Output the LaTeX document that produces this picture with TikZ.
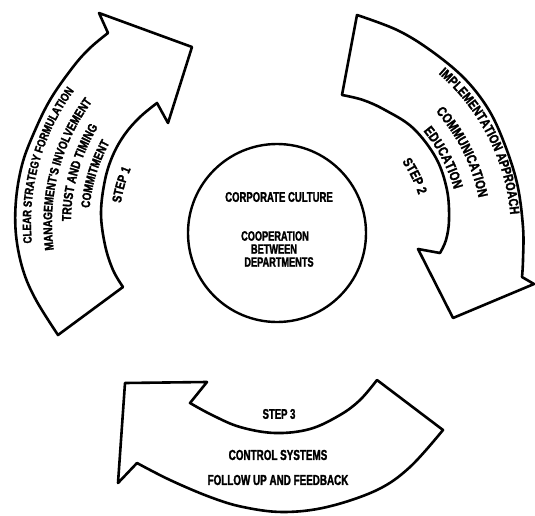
\documentclass[tikz,border=0pt]{standalone}
\usepackage{fontspec}
\usetikzlibrary{calc,decorations.text}
% heavy condensed lettering
\newfontfamily\heavy{Liberation Sans}[FakeStretch=0.68,FakeBold=1.6]
\newfontfamily\curved{Liberation Sans}[FakeStretch=0.8,FakeBold=1.6]
\newfontfamily\curvedspaced{Liberation Sans}[FakeStretch=0.8,FakeBold=1.6,LetterSpace=18]

\begin{document}
\begin{tikzpicture}[x=1pt, y=-1pt, line join=round]
\tikzset{
  outline/.style={draw=black, line width=2.6pt, fill=white, line join=round},
  flat/.style={inner sep=0pt, font=\heavy\bfseries\fontsize{14}{16}\selectfont},
  hubtext/.style={inner sep=0pt, font=\heavy\bfseries\fontsize{13.5}{15}\selectfont},
  arctext/.style={decorate, decoration={text along path, text align=center, text={#1}}},
}
\fill[white] (0,0) rectangle (535,516);
\useasboundingbox (0,0) rectangle (535,516);

\coordinate (c1) at (255,223);
\coordinate (c2) at (300,233);

% step 1 arrow, rising on the left
\draw[outline] (123,287) -- (58,335)
  -- plot[smooth, tension=0.6] coordinates {(58,335) (36,300) (23,270) (16,235) (16,200) (22,165) (33,135) (50,100) (73,67) (90,48) (108,33)}
  -- (99,13) -- (192,47) -- (168,123) -- (157,103)
  -- plot[smooth, tension=0.6] coordinates {(157,103) (140,117) (125,134) (113,155) (105,180) (101,213) (105,245) (113,270) (123,287)}
  -- cycle;

% step 2 arrow, descending on the right
\draw[outline] (357,15)
  -- plot[smooth, tension=0.6] coordinates {(357,15) (397,30) (430,50) (463,77) (487,107) (503,140) (517,183) (523,227) (523,260) (522,277)}
  -- (534,284) -- (453,318) -- (418,249) -- (440,253)
  -- plot[smooth, tension=0.6] coordinates {(440,253) (446,240) (449,220) (447,190) (436,158) (413,128) (385,110) (363,100) (342,95)}
  -- cycle;

% step 3 arrow, sweeping back along the bottom
\draw[outline] (377,380) -- (443,430)
  -- plot[smooth, tension=0.6] coordinates {(443,430) (410,467) (377,490) (327,507) (283,512) (243,507) (210,497) (170,480) (137,463)}
  -- (118,483) -- (125,383) -- (207,382) -- (190,403)
  -- plot[smooth, tension=0.6] coordinates {(190,403) (212,415) (240,427) (275,433) (310,429) (340,415) (360,400) (377,380)}
  -- cycle;

% central circle
\node[draw, circle, line width=2.4pt, minimum size=178pt, inner sep=0pt] (hub) at (277,233) {};
\node[flat] (culture) at (279,197) {CORPORATE CULTURE};
\node[hubtext] (coop) at (275,236) {COOPERATION};
\node[hubtext] (betw) at (274,249) {BETWEEN};
\node[hubtext] (dept) at (279,262) {DEPARTMENTS};

% step 1 lettering
\path[arctext={|\curved\bfseries\fontsize{12}{14}\selectfont|CLEAR STRATEGY FORMULATION}]
  ($(c1)+(165.5:224)$) arc[start angle=165.5, end angle=225.5, radius=224];
\path[arctext={|\curved\bfseries\fontsize{12.5}{14}\selectfont|MANAGEMENT'S INVOLVEMENT}]
  ($(c1)+(164.5:203)$) arc[start angle=164.5, end angle=224.5, radius=203];
\path[arctext={|\curved\bfseries\fontsize{13}{15}\selectfont|TRUST AND TIMING}]
  ($(c1)+(166:184)$) arc[start angle=166, end angle=226, radius=184];
\path[arctext={|\curvedspaced\bfseries\fontsize{12.5}{14}\selectfont|COMMITMENT}]
  ($(c1)+(167:166)$) arc[start angle=167, end angle=227, radius=166];
\path[arctext={|\curved\bfseries\fontsize{13}{15}\selectfont|STEP 1}]
  ($(c1)+(166:135.5)$) arc[start angle=166, end angle=226, radius=135.5];

% step 2 lettering
\path[arctext={|\curved\bfseries\fontsize{13.5}{15}\selectfont|IMPLEMENTATION APPROACH}]
  ($(c2)+(-62:211)$) arc[start angle=-62, end angle=8, radius=211];
\path[arctext={|\curved\bfseries\fontsize{14}{16}\selectfont|COMMUNICATION}]
  ($(c2)+(-61.5:182)$) arc[start angle=-61.5, end angle=8.5, radius=182];
\path[arctext={|\curved\bfseries\fontsize{14}{16}\selectfont|EDUCATION}]
  ($(c2)+(-62.7:160)$) arc[start angle=-62.7, end angle=7.3, radius=160];
\path[arctext={|\curved\bfseries\fontsize{13.5}{15}\selectfont|STEP 2}]
  ($(c2)+(-61.4:124.5)$) arc[start angle=-61.4, end angle=8.6, radius=124.5];

% step 3 lettering
\node[flat] (step3) at (279,414) {STEP 3};
\node[flat, font=\heavy\bfseries\fontsize{14.5}{16}\selectfont] (ctrl) at (278,455) {CONTROL SYSTEMS};
\node[flat, font=\heavy\bfseries\fontsize{14.5}{16}\selectfont] (follow) at (278,480) {FOLLOW UP AND FEEDBACK};
\end{tikzpicture}
\end{document}
